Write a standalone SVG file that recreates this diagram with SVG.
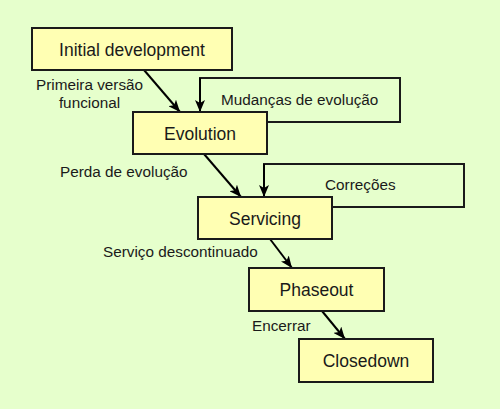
<svg xmlns="http://www.w3.org/2000/svg" width="500" height="409" viewBox="0 0 500 409">
<defs>
<marker id="ah" markerWidth="12" markerHeight="10" viewBox="0 0 12 10" refX="12" refY="5" orient="auto" markerUnits="userSpaceOnUse">
<path d="M0,0 L12,5 L0,10 L3,5 Z" fill="#000"/>
</marker>
<style>
.box{fill:#ffffb3;stroke:#1a1a1a;stroke-width:2}
.nt{font-family:"Liberation Sans",Arial,sans-serif;font-size:17.5px;fill:#1a1a1a;text-anchor:middle}
.lt{font-family:"Liberation Sans",Arial,sans-serif;font-size:15.3px;fill:#1a1a1a}
.c{fill:none;stroke:#000;stroke-width:2;marker-end:url(#ah)}
.loop{fill:none;stroke:#1a1a1a;stroke-width:2}
</style>
</defs>
<rect width="500" height="409" fill="#e6ffcc"/>
<g id="connectors">
<polyline class="loop" points="267,122 400,122 400,78 200,78 200,104"/>
<polyline class="c" points="200,78 200,112"/>
<polyline class="loop" points="332,207 464,207 464,164 264,164 264,190"/>
<polyline class="c" points="264,164 264,197"/>
<line class="c" x1="144" y1="70" x2="180" y2="112"/>
<line class="c" x1="204" y1="154" x2="241" y2="197"/>
<line class="c" x1="270" y1="239" x2="292" y2="268"/>
<line class="c" x1="322" y1="311" x2="345" y2="339"/>
<text class="lt" x="89.5" y="90" text-anchor="middle">Primeira versão</text>
<text class="lt" x="89.5" y="108" text-anchor="middle">funcional</text>
<text class="lt" x="221" y="105">Mudanças de evolução</text>
<text class="lt" x="60" y="177">Perda de evolução</text>
<text class="lt" x="325" y="190">Correções</text>
<text class="lt" x="103" y="257">Serviço descontinuado</text>
<text class="lt" x="252" y="331">Encerrar</text>
</g>
<g id="initial">
<rect class="box" x="32" y="28" width="200" height="42"/>
<text class="nt" x="132" y="55.5">Initial development</text>
</g>
<g id="evolution">
<rect class="box" x="133" y="112" width="134" height="42"/>
<text class="nt" x="200" y="140">Evolution</text>
</g>
<g id="servicing">
<rect class="box" x="198" y="197" width="134" height="42"/>
<text class="nt" x="265" y="225">Servicing</text>
</g>
<g id="phaseout">
<rect class="box" x="249" y="268" width="135" height="43"/>
<text class="nt" x="316.5" y="296">Phaseout</text>
</g>
<g id="closedown">
<rect class="box" x="299" y="339" width="134" height="43"/>
<text class="nt" x="366" y="367">Closedown</text>
</g>
</svg>
